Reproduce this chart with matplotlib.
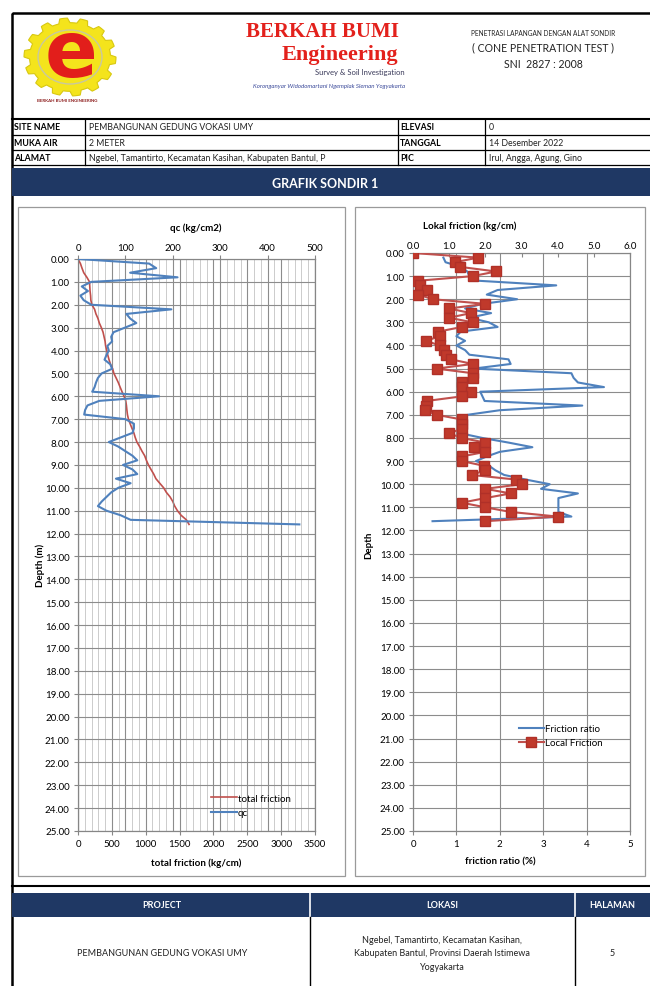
import numpy as np
import matplotlib
matplotlib.use("Agg")
import matplotlib.pyplot as plt
from matplotlib.patches import Rectangle, Polygon, Ellipse

plt.rcParams['font.family'] = ['Lato', 'DejaVu Sans']

# --- data read from the sondir sheet (depth step 0.2 m) ---
depth = [0.0, 0.2, 0.4, 0.6, 0.8, 1.0, 1.2, 1.4, 1.6, 1.8,
         2.0, 2.2, 2.4, 2.6, 2.8, 3.0, 3.2, 3.4, 3.6, 3.8,
         4.0, 4.2, 4.4, 4.6, 4.8, 5.0, 5.2, 5.4, 5.6, 5.8,
         6.0, 6.2, 6.4, 6.6, 6.8, 7.0, 7.2, 7.4, 7.6, 7.8,
         8.0, 8.2, 8.4, 8.6, 8.8, 9.0, 9.2, 9.4, 9.6, 9.8,
         10.0, 10.2, 10.4, 10.6, 10.8, 11.0, 11.2, 11.4, 11.6]

qc = [0, 150, 165, 110, 210, 28, 8, 21, 5, 12,
      28, 197, 102, 110, 123, 99, 75, 70, 72, 62,
      65, 60, 56, 68, 72, 50, 42, 38, 35, 30,
      171, 45, 20, 15, 13, 100, 118, 118, 115, 90,
      65, 85, 100, 115, 125, 95, 115, 125, 80, 111,
      85, 70, 60, 50, 42, 60, 90, 111, 467]

total_friction = [0, 36, 59, 85, 131, 170, 174, 178, 186, 190,
                  205, 245, 265, 295, 315, 345, 370, 385, 400, 408,
                  425, 440, 458, 480, 512, 530, 563, 595, 622, 650,
                  680, 705, 715, 722, 730, 745, 770, 797, 825, 845,
                  870, 910, 945, 985, 1010, 1040, 1078, 1118, 1150, 1207,
                  1265, 1305, 1360, 1400, 1428, 1468, 1522, 1600, 1640]

local_friction = [0.0, 1.8, 1.15, 1.3, 2.3, 1.65, 0.15, 0.2, 0.4, 0.15,
                  0.55, 2.0, 1.0, 1.6, 1.0, 1.65, 1.35, 0.7, 0.75, 0.35,
                  0.75, 0.85, 0.9, 1.05, 1.65, 0.65, 1.65, 1.65, 1.35, 1.35,
                  1.6, 1.35, 0.38, 0.35, 0.33, 0.65, 1.35, 1.35, 1.35, 1.0,
                  1.35, 2.0, 1.7, 2.0, 1.35, 1.35, 1.95, 2.0, 1.62, 2.85,
                  3.0, 2.0, 2.7, 2.0, 1.35, 2.0, 2.7, 4.0, 2.0]

friction_ratio = [np.nan, 0.7, 0.75, 1.1, 1.25, 1.3, 1.5, 3.3, 1.95, 1.7,
                  2.4, 1.6, 1.2, 1.8, 1.3, 1.75, 1.95, 1.1, 1.0, 1.2,
                  1.0, 1.2, 1.3, 2.2, 2.25, 1.4, 3.65, 3.7, 3.8, 4.4,
                  1.55, 1.6, 1.65, 3.9, 2.0, 1.25, 1.2, 1.15, 1.1, 1.1,
                  1.6, 2.2, 2.75, 2.0, 1.7, 1.45, 1.75, 1.9, 2.1, 2.6,
                  3.15, 2.95, 3.8, 3.35, 3.35, 3.35, 3.35, 3.65, 0.45]

info_rows = [("SITE NAME", "PEMBANGUNAN GEDUNG VOKASI UMY", "ELEVASI", "0"),
             ("MUKA AIR", "2 METER", "TANGGAL", "14 Desember 2022"),
             ("ALAMAT", "Ngebel, Tamantirto, Kecamatan Kasihan, Kabupaten Bantul, P", "PIC",
              "Irul, Angga, Agung, Gino")]

BLUE = '#4f81bd'
RED = '#c0504d'
NAVY = '#1f3864'
W, H = 650, 987

fig = plt.figure(figsize=(W / 100, H / 100), dpi=100)


def px(x0, y0, x1, y1):
    return [x0 / W, 1 - y1 / H, (x1 - x0) / W, (y1 - y0) / H]


bg = fig.add_axes([0, 0, 1, 1])
bg.set_xlim(0, W)
bg.set_ylim(H, 0)
bg.axis('off')

# outer frame + header
bg.add_patch(Rectangle((12, 14), 660, 990, fill=False, ec='black', lw=1.8))
bg.plot([12, 650], [120, 120], color='black', lw=1.5)

# logo
cx, cy = 70, 58
ang = np.linspace(0, 2 * np.pi, 113)[:-1]
rr = np.where((np.arange(112) // 4) % 2 == 0, 1.0, 0.88)
gear = np.column_stack([cx + 46 * rr * np.cos(ang), cy + 39 * rr * np.sin(ang)])
bg.add_patch(Polygon(gear, closed=True, fc='#f4e41c', ec='#d8c810', lw=0.8))
bg.add_patch(Ellipse((cx, cy), 64, 54, fc='#f4e41c', ec='#c8c8a0', lw=1.0))
bg.text(cx + 1, cy - 3, 'e', color='#e21e1b', fontsize=56, fontweight='bold',
        family='DejaVu Sans', ha='center', va='center')
bg.text(67, 101, 'BERKAH BUMI ENGINEERING', color='#8b1a1a', fontsize=3.2,
        fontweight='bold', ha='center', va='center')

bg.text(323, 32, 'BERKAH BUMI', color='#e3211c', fontsize=15, fontweight='bold',
        family='Liberation Serif', ha='center', va='center')
bg.text(340, 55, 'Engineering', color='#e3211c', fontsize=16, fontweight='bold',
        family='Liberation Serif', ha='center', va='center')
bg.text(405, 73, 'Survey & Soil Investigation', color='#3a3a5a', fontsize=5.5,
        ha='right', va='center')
bg.text(405, 86, 'Koronganyar Widodomartani Ngemplak Sleman Yogyakarta', color='#3b4a9a',
        fontsize=4.4, style='italic', ha='right', va='center')
bg.text(543, 34, 'PENETRASI LAPANGAN DENGAN ALAT SONDIR', color='#222222', fontsize=4.7,
        ha='center', va='center')
bg.text(543, 48, '( CONE PENETRATION TEST )', color='#222222', fontsize=7.6,
        ha='center', va='center')
bg.text(543, 65, 'SNI  2827 : 2008', color='#222222', fontsize=7.6,
        ha='center', va='center')

# info table
row_y = [120, 135.5, 150.5, 166]
for y in row_y[1:]:
    bg.plot([12, 650], [y, y], color='black', lw=0.9)
for x in [85, 398, 485]:
    bg.plot([x, x], [120, 166], color='black', lw=0.9)
for i, (l1, v1, l2, v2) in enumerate(info_rows):
    ym = (row_y[i] + row_y[i + 1]) / 2
    bg.text(14, ym, l1, fontsize=6.3, fontweight='bold', va='center')
    bg.text(89, ym, v1, fontsize=6.3, va='center', color='#222222')
    bg.text(400, ym, l2, fontsize=6.3, fontweight='bold', va='center')
    bg.text(489, ym, v2, fontsize=6.3, va='center', color='#222222')

# banner
bg.add_patch(Rectangle((12, 169), 640, 28, fc=NAVY, ec='none'))
bg.text(325, 184, 'GRAFIK SONDIR 1', color='white', fontsize=9, fontweight='bold',
        ha='center', va='center')

# chart frames
bg.add_patch(Rectangle((18, 208), 327, 669, fill=False, ec='#9a9a9a', lw=0.9))
bg.add_patch(Rectangle((355, 208), 290, 669, fill=False, ec='#9a9a9a', lw=0.9))

# footer table
bg.plot([12, 650], [887, 887], color='black', lw=1.5)
bg.add_patch(Rectangle((12, 894), 640, 24, fc=NAVY, ec='none'))
for x in [310, 575]:
    bg.plot([x, x], [894, 918], color='white', lw=1.2)
    bg.plot([x, x], [918, 987], color='black', lw=1.0)
bg.text(162, 906, 'PROJECT', color='white', fontsize=6.5, fontweight='bold', ha='center', va='center')
bg.text(442, 906, 'LOKASI', color='white', fontsize=6.5, fontweight='bold', ha='center', va='center')
bg.text(612, 906, 'HALAMAN', color='white', fontsize=6.5, fontweight='bold', ha='center', va='center')
bg.text(162, 954, 'PEMBANGUNAN GEDUNG VOKASI UMY', fontsize=6.5, ha='center', va='center', color='#222222')
bg.text(442, 954, 'Ngebel, Tamantirto, Kecamatan Kasihan,\nKabupaten Bantul, Provinsi Daerah Istimewa\nYogyakarta',
        fontsize=6.5, ha='center', va='center', linespacing=1.6, color='#222222')
bg.text(612, 954, '5', fontsize=6.5, ha='center', va='center', color='#222222')

# axis titles placed like the Excel chart
bg.text(196, 228, 'qc (kg/cm2)', fontsize=7, fontweight='bold', ha='center', va='center')
bg.text(196, 863, 'total friction (kg/cm)', fontsize=7, fontweight='bold', ha='center', va='center')
bg.text(40, 565, 'Depth (m)', fontsize=7, fontweight='bold', ha='center', va='center', rotation=90)
bg.text(470, 226, 'Lokal friction (kg/cm)', fontsize=7, fontweight='bold', ha='center', va='center')
bg.text(500, 862, 'friction ratio (%)', fontsize=7, fontweight='bold', ha='center', va='center')
bg.text(369, 545, 'Depth', fontsize=7, fontweight='bold', ha='center', va='center', rotation=90)


def style_depth(ax):
    ax.set_ylim(25, 0)
    ax.set_yticks(range(0, 26))
    ax.set_yticklabels([f'{v:.2f}' for v in range(0, 26)], fontsize=7)
    ax.grid(axis='y', color='#8c8c8c', lw=0.8)
    for s in ax.spines.values():
        s.set_color('#868686')
    ax.tick_params(length=3, color='#868686', labelsize=7, pad=3)


# ---- left chart: total friction (bottom) and qc (top) ----
ax1 = fig.add_axes(px(78, 260, 315, 832))
ax1.set_xlim(0, 3500)
ax1.set_xticks(range(0, 3501, 500))
ax1.set_xticks(range(0, 3501, 100), minor=True)
ax1.tick_params(axis='x', which='minor', length=0)
ax1.grid(axis='x', which='minor', color='#c4c4c4', lw=0.6)
ax1.grid(axis='x', which='major', color='#8c8c8c', lw=0.8)
style_depth(ax1)
l_tf, = ax1.plot(total_friction, depth, color=RED, lw=1.2, zorder=3)

ax1t = ax1.twiny()
ax1t.set_xlim(0, 500)
ax1t.set_xticks(range(0, 501, 100))
ax1t.grid(axis='x', color='#8c8c8c', lw=0.8)
ax1t.tick_params(length=3, color='#868686', labelsize=7, pad=2)
for s in ax1t.spines.values():
    s.set_color('#868686')
l_qc, = ax1t.plot(qc, depth, color=BLUE, lw=1.5, zorder=3)
ax1t.set_ylim(25, 0)
ax1t.legend([l_tf, l_qc], ['total friction', 'qc'], loc='center', bbox_to_anchor=(0.73, 0.045),
            frameon=False, fontsize=7, handlelength=2.6, handletextpad=0.1, labelspacing=0.55)

# ---- right chart: friction ratio (bottom) and local friction (top) ----
ax2 = fig.add_axes(px(413, 254, 630, 832))
ax2.set_xlim(0, 5)
ax2.set_xticks(range(0, 6))
ax2.grid(axis='x', color='#8c8c8c', lw=0.8)
style_depth(ax2)
l_fr, = ax2.plot(friction_ratio, depth, color=BLUE, lw=1.5, zorder=3)

ax2t = ax2.twiny()
ax2t.set_xlim(0, 6)
ax2t.set_xticks(range(0, 7))
ax2t.set_xticklabels([f'{v:.1f}' for v in range(0, 7)])
ax2t.tick_params(length=3, direction='in', color='#868686', labelsize=7, pad=2)
for s in ax2t.spines.values():
    s.set_color('#868686')
l_lf, = ax2t.plot(local_friction, depth, color=RED, lw=1.5, marker='s', ms=6.5,
                  mfc='#c0392b', mec='#b03028', zorder=4)
ax2t.set_ylim(25, 0)
ax2t.legend([l_fr, l_lf], ['Friction ratio', 'Local Friction'], loc='center',
            bbox_to_anchor=(0.68, 0.165), frameon=False, fontsize=7,
            handlelength=2.6, handletextpad=0.1, labelspacing=0.55)

fig.savefig('out.png', dpi=100)
